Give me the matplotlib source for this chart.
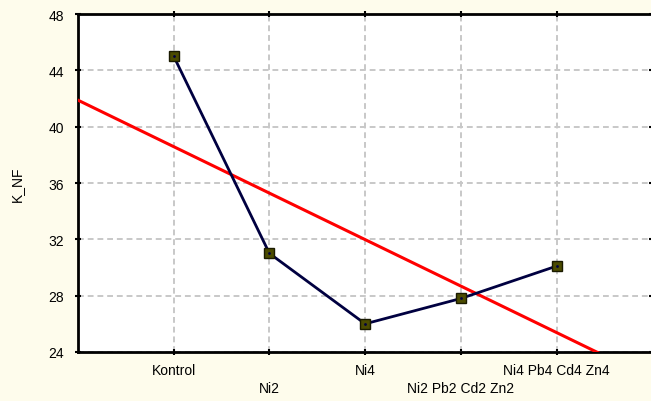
import numpy as np
import matplotlib.pyplot as plt

plt.rcParams['font.family'] = ['Liberation Sans', 'DejaVu Sans']

kategori = ['Kontrol', 'Ni2', 'Ni4', 'Ni2 Pb2 Cd2 Zn2', 'Ni4 Pb4 Cd4 Zn4']
k_nf = [45.0, 31.0, 26.0, 27.8, 30.1]

x = np.arange(len(kategori))

fig = plt.figure(figsize=(6.51, 4.02), dpi=100, facecolor='#FEFCEC')
ax = fig.add_axes([78 / 651, 1 - 353 / 402, 1 - 78 / 651 + 0.002, (353 - 15) / 402])
ax.set_facecolor('white')

# garis regresi linier
a, b = np.polyfit(x, k_nf, 1)
xr = np.array([-1, 5])
ax.plot(xr, a * xr + b, color='#FF0000', lw=2.2, zorder=3)

ax.plot(x, k_nf, color='#000040', lw=2, marker='s', ms=7,
        mfc='#4B4B00', mec='#1A1A00', mew=1, zorder=4)
ax.plot(x, k_nf, ls='none', marker='.', ms=2, color='#000040', zorder=5)

ax.set_xlim(-1, 5)
ax.set_ylim(24, 48)
ax.set_yticks(range(24, 49, 4))
# label berselang: baris atas (major) dan baris bawah (minor)
ax.set_xticks(x[::2])
ax.set_xticklabels(kategori[::2])
ax.set_xticks(x[1::2], minor=True)
ax.set_xticklabels(kategori[1::2], minor=True)
ax.set_ylabel('K_NF', fontsize=10, labelpad=18)

ax.grid(True, which='both', axis='x', color='#C8C8C8', ls=(0, (3, 2)), lw=1.4)
ax.grid(True, axis='y', color='#C8C8C8', ls=(0, (3, 2)), lw=1.4)
ax.set_axisbelow(True)
for s in ax.spines.values():
    s.set_linewidth(2)
ax.tick_params(which='both', direction='inout', length=4, width=1.5, labelsize=10, top=True, right=True)
ax.tick_params(axis='x', which='major', pad=6)
ax.tick_params(axis='x', which='minor', pad=19)
ax.tick_params(axis='y', pad=8)

fig.savefig('out.png', dpi=100, facecolor=fig.get_facecolor())
